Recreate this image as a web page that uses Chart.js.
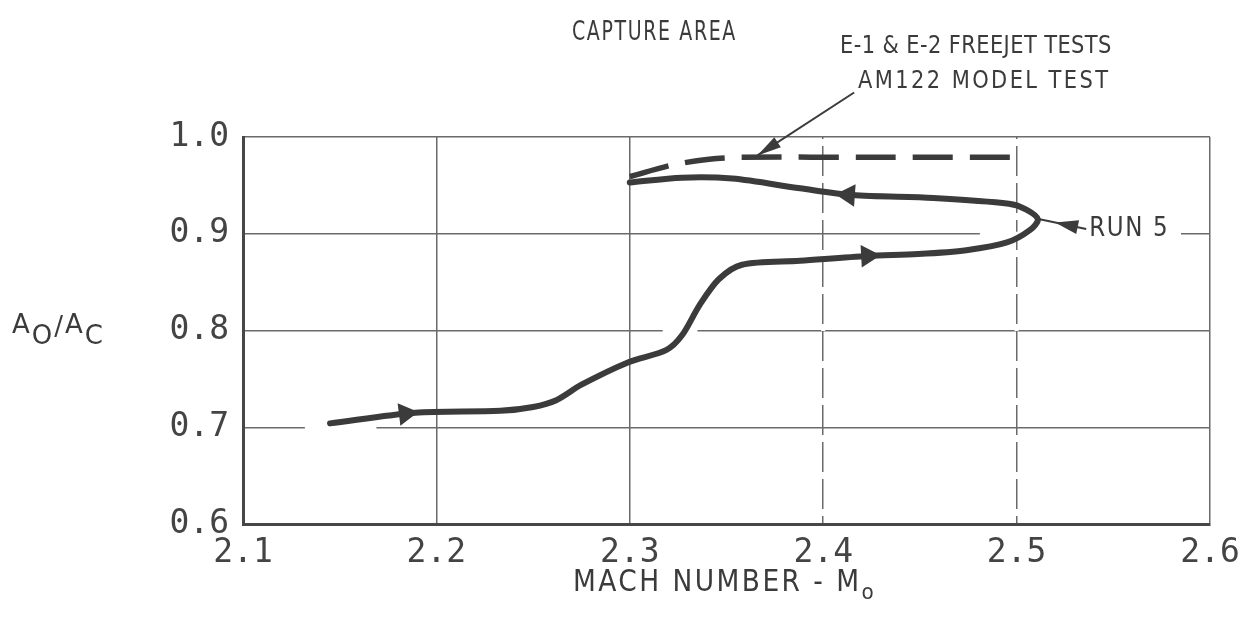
<!DOCTYPE html>
<html>
<head>
<meta charset="utf-8">
<script src="https://cdn.jsdelivr.net/npm/chart.js@4.4.1/dist/chart.umd.min.js"></script>
<style>
  html, body { margin: 0; padding: 0; background: #fff; }
  #wrap { width: 1250px; height: 624px; }
</style>
</head>
<body>
<div id="wrap"><canvas id="captureChart" width="1250" height="624"></canvas></div>
<script>
// axis ticks
const xTicks = [2.1, 2.2, 2.3, 2.4, 2.5, 2.6];
const yTicks = [0.6, 0.7, 0.8, 0.9, 1.0];

// run 5 trace (Mach number, Ao/Ac), in drawing order
const run5Mach = [2.145, 2.189, 2.233, 2.250, 2.262, 2.275, 2.299, 2.319, 2.327, 2.336, 2.346, 2.358,
                  2.388, 2.423, 2.449, 2.474, 2.495, 2.507, 2.511, 2.505, 2.496, 2.457, 2.415, 2.388,
                  2.353, 2.327, 2.300];
const run5Area = [0.704, 0.715, 0.717, 0.721, 0.728, 0.744, 0.767, 0.780, 0.795, 0.826, 0.853, 0.868,
                  0.872, 0.877, 0.879, 0.883, 0.891, 0.904, 0.915, 0.925, 0.931, 0.937, 0.940, 0.947,
                  0.957, 0.958, 0.953];

// E-1 & E-2 freejet / AM122 model test
const freejetMach = [2.300, 2.322, 2.341, 2.357, 2.430, 2.500];
const freejetArea = [0.959, 0.971, 0.977, 0.979, 0.979, 0.979];

// flow direction arrows on run 5
const arrowMach = [2.184, 2.423, 2.413];
const arrowArea = [0.714, 0.877, 0.940];
const arrowAngle = [83, 87, 274];

const INK = '#3b3b3b';
const GRID = '#6b6b6b';

const toXY = (xs, ys) => xs.map((x, i) => ({ x: x, y: ys[i] }));

function txt(ctx, s, x, y, font, sx, sy, spacing) {
    ctx.save();
    ctx.translate(x, y);
    ctx.scale(sx || 1, sy || 1);
    ctx.font = font;
    ctx.letterSpacing = (spacing || 0) + 'px';
    ctx.textAlign = 'left';
    ctx.textBaseline = 'alphabetic';
    ctx.fillText(s, 0, 0);
    const w = ctx.measureText(s).width * (sx || 1);
    ctx.restore();
    return w;
}

function arrowHead(ctx, tipX, tipY, fromX, fromY, len, half) {
    const a = Math.atan2(tipY - fromY, tipX - fromX);
    ctx.beginPath();
    ctx.moveTo(tipX, tipY);
    ctx.lineTo(tipX - len * Math.cos(a) + half * Math.sin(a), tipY - len * Math.sin(a) - half * Math.cos(a));
    ctx.lineTo(tipX - len * Math.cos(a) - half * Math.sin(a), tipY - len * Math.sin(a) + half * Math.cos(a));
    ctx.closePath();
    ctx.fill();
}

// gaps in the grid where the drafter broke the lines
const gridGaps = [
    { y: 0.7, x0: 2.132, x1: 2.169 },
    { y: 0.8, x0: 2.317, x1: 2.335 },
    { y: 0.9, x0: 2.481, x1: 2.585 }
];

const paperPlugin = {
    id: 'paper',
    beforeDatasetsDraw(chart) {
        const { ctx, scales: { x, y } } = chart;
        ctx.save();
        ctx.strokeStyle = '#fff';
        ctx.lineWidth = 4;
        gridGaps.forEach(g => {
            ctx.beginPath();
            ctx.moveTo(x.getPixelForValue(g.x0), y.getPixelForValue(g.y));
            ctx.lineTo(x.getPixelForValue(g.x1), y.getPixelForValue(g.y));
            ctx.stroke();
        });
        // 2.4 and 2.5 verticals are drawn broken
        [2.4, 2.5].forEach(v => {
            const px = x.getPixelForValue(v);
            ctx.setLineDash([7, 30]);
            ctx.beginPath();
            ctx.moveTo(px, y.getPixelForValue(1.0) + 2);
            ctx.lineTo(px, y.getPixelForValue(0.6) - 2);
            ctx.stroke();
        });
        ctx.restore();
    },
    afterDraw(chart) {
        const { ctx, scales: { x, y } } = chart;
        ctx.save();
        ctx.fillStyle = INK;
        ctx.strokeStyle = INK;

        txt(ctx, 'CAPTURE AREA', 572, 40, '19px "DejaVu Sans"', 1.0, 1.4, 1.6);
        txt(ctx, 'E-1 \u0026 E-2 FREEJET TESTS', 840, 53, '21px "DejaVu Sans"', 1.0, 1.2, 0.4);
        txt(ctx, 'AM122 MODEL TEST', 858, 88, '21px "DejaVu Sans"', 1.0, 1.2, 2.4);

        // leader to the freejet line
        const l1x0 = x.getPixelForValue(2.416), l1y0 = y.getPixelForValue(1.046);
        const l1x1 = x.getPixelForValue(2.366), l1y1 = y.getPixelForValue(0.981);
        ctx.lineWidth = 2;
        ctx.beginPath();
        ctx.moveTo(l1x0, l1y0);
        ctx.lineTo(l1x1, l1y1);
        ctx.stroke();
        arrowHead(ctx, l1x1, l1y1, l1x0, l1y0, 24, 6);

        // RUN 5 leader
        const r0x = x.getPixelForValue(2.512), r0y = y.getPixelForValue(0.915);
        const r1x = x.getPixelForValue(2.536), r1y = y.getPixelForValue(0.905);
        ctx.beginPath();
        ctx.moveTo(r0x, r0y);
        ctx.lineTo(r1x, r1y);
        ctx.stroke();
        const tx = r0x + (r1x - r0x) * 0.33, ty = r0y + (r1y - r0y) * 0.33;
        arrowHead(ctx, tx, ty, r1x, r1y, 23, 7);
        txt(ctx, 'RUN 5', r1x + 3, 236, '23px "DejaVu Sans"', 1.0, 1.15, 1.6);

        // y title  Ao/Ac
        let cx = 12;
        const f = '26px "DejaVu Sans"';
        cx += txt(ctx, 'A', cx, 333, f, 1, 1.0, 2);
        cx += txt(ctx, 'O', cx, 344, f, 1, 1.0, 2);
        cx += txt(ctx, '/', cx, 335, f, 1, 1.0, 2);
        cx += txt(ctx, 'A', cx, 333, f, 1, 1.0, 2);
        txt(ctx, 'C', cx, 344, f, 1, 1.0, 2);

        // x title
        const w = txt(ctx, 'MACH NUMBER - M', 573, 591, '27px "DejaVu Sans"', 0.98, 1.12, 2.5);
        txt(ctx, 'o', 573 + w, 599, '20px "DejaVu Sans"', 1, 1.1);
        ctx.restore();
    }
};

const ctx = document.getElementById('captureChart').getContext('2d');
const chart = new Chart(ctx, {
    type: 'scatter',
    data: {
        datasets: [
            {
                label: 'RUN 5',
                data: toXY(run5Mach, run5Area),
                showLine: true,
                borderColor: INK,
                borderWidth: 6,
                borderCapStyle: 'round',
                borderJoinStyle: 'round',
                tension: 0.3,
                pointRadius: 0,
                pointHoverRadius: 0
            },
            {
                label: 'E-1 & E-2 FREEJET TESTS / AM122 MODEL TEST',
                data: toXY(freejetMach, freejetArea),
                showLine: true,
                borderColor: INK,
                borderWidth: 5.5,
                borderDash: [40, 17],
                tension: 0.3,
                pointRadius: 0,
                pointHoverRadius: 0
            },
            {
                label: 'arrows',
                data: toXY(arrowMach, arrowArea),
                showLine: false,
                pointStyle: 'triangle',
                pointRadius: 13,
                pointRotation: arrowAngle,
                backgroundColor: INK,
                borderColor: INK,
                borderWidth: 0
            }
        ]
    },
    options: {
        responsive: false,
        animation: false,
        events: [],
        layout: { padding: { left: 0, top: 137, right: 40, bottom: 0 } },
        plugins: {
            legend: { display: false },
            title: { display: false },
            tooltip: { enabled: false }
        },
        scales: {
            x: {
                type: 'linear',
                min: 2.1,
                max: 2.6,
                afterBuildTicks: s => { s.ticks = xTicks.map(v => ({ value: v })); },
                afterFit: s => { s.height = 100; },
                grid: { color: GRID, lineWidth: 1.5, drawTicks: false },
                border: { color: '#474747', width: 3 },
                ticks: {
                    color: '#444',
                    padding: 10,
                    font: { family: '"DejaVu Sans Mono"', size: 33 },
                    callback: v => v.toFixed(1)
                }
            },
            y: {
                type: 'linear',
                min: 0.6,
                max: 1.0,
                afterBuildTicks: s => { s.ticks = yTicks.map(v => ({ value: v })); },
                afterFit: s => { s.width = 243; },
                grid: { color: GRID, lineWidth: 1.5, drawTicks: false },
                border: { color: '#474747', width: 3 },
                ticks: {
                    color: '#444',
                    padding: 14,
                    font: { family: '"DejaVu Sans Mono"', size: 33 },
                    callback: v => v.toFixed(1)
                }
            }
        }
    },
    plugins: [paperPlugin]
});
</script>
</body>
</html>
